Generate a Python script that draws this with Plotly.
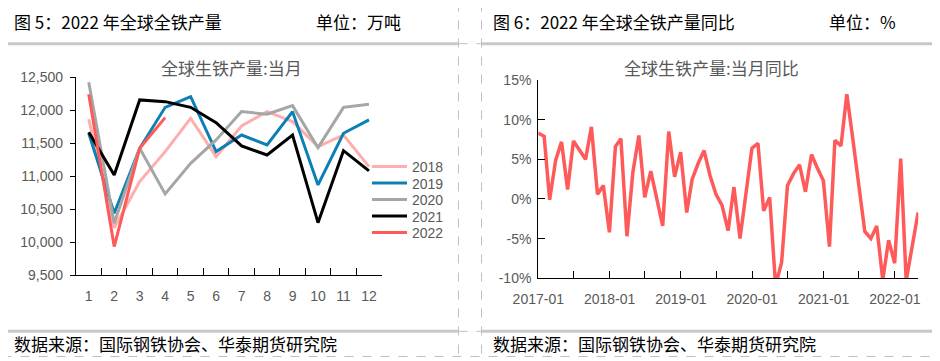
import pandas as pd
import plotly.graph_objects as go

W, H = 940, 361
OFF = 8  # page body margin in the browser

# ---------------- data ----------------
months = [str(i) for i in range(1, 13)]
y2018 = [11864, 10220, 10920, 11374, 11879, 11298, 11763, 11980, 11828, 11450, 11626, 11147]
y2019 = [11652, 10440, 11424, 12045, 12207, 11374, 11626, 11475, 11980, 10869, 11652, 11854]
y2020 = [12424, 10288, 11424, 10733, 11197, 11551, 11980, 11940, 12071, 11434, 12045, 12091]
y2021 = [11667, 11020, 12157, 12131, 12045, 11813, 11460, 11323, 11626, 10298, 11389, 11081]
y2022 = [12242, 9935, 11424, 11889]

yoy_start = "2016-12-31"
yoy = [
    8.3,
    7.9, -0.1, 4.9, 7.2, 1.2, 7.3, 6.1, 5.0, 9.1, 0.6, 1.7, -4.2,
    6.6, 7.6, -4.7, 3.3, 8.0, 0.2, 3.5, 0.1, -3.4, 8.5, 2.8, 5.9,
    -1.7, 2.5, 4.5, 6.1, 2.9, 0.6, -0.8, -4.0, 1.5, -5.0, 0.6, 6.4,
    7.0, -1.5, 0.2, -10.9, -8.0, 1.7, 3.2, 4.3, 0.9, 5.6, 3.9, 2.3,
    -6.0, 7.4, 6.7, 13.2, 7.5, 2.0, -4.1, -5.0, -3.4, -10.2, -5.2, -8.1,
    5.1, -10.3, -5.9, -1.7,
]
yoy_dates = [(pd.Timestamp(yoy_start) + pd.offsets.MonthEnd(i)).strftime("%Y-%m-%d") for i in range(len(yoy))]

x2_tickvals = [f"{y}-{m:02d}-01" for y in range(2017, 2023) for m in (1, 7)][:-1]
x2_ticktext = [f"{y}-01" if m == 1 else "" for y in range(2017, 2023) for m in (1, 7)][:-1]
y2_tickvals = [-10, -5, 0, 5, 10, 15]
y2_ticktext = ["-10%", "-5%", "0%", "5%", "10%", "15%"]

series = [("2018", y2018, "#FFADAD"), ("2019", y2019, "#0C80B4"), ("2020", y2020, "#A6A6A6"),
          ("2021", y2021, "#000000"), ("2022", y2022, "#FF5A5A")]
legend_rows = [167, 183.5, 200, 216.5, 233]

# ---------------- helpers ----------------
def px(x):
    return (x - OFF) / W

def py(y):
    return 1 - (y - OFF) / H

CJK = "Noto Sans CJK SC"
NUM = "Liberation Sans"
GRAY_TXT = "#595959"

fig = go.Figure()
legend_layouts = {}
for i, (name, vals, col) in enumerate(series):
    lg = "legend" if i == 0 else f"legend{i + 1}"
    fig.add_trace(go.Scatter(x=months[:len(vals)], y=vals, name=name, mode="lines",
                             line=dict(color=col, width=3), xaxis="x", yaxis="y", legend=lg))
    legend_layouts[lg] = dict(x=px(367), y=py(legend_rows[i]), xanchor="left", yanchor="middle",
                              font=dict(family=NUM, size=14, color=GRAY_TXT),
                              bgcolor="rgba(0,0,0,0)", itemwidth=35)

fig.add_trace(go.Scatter(x=yoy_dates, y=yoy, mode="lines", showlegend=False,
                         line=dict(color="#FF5A5A", width=3.5), xaxis="x2", yaxis="y2"))

tickfont = dict(family=NUM, size=14, color=GRAY_TXT)

fig.update_layout(
    width=W, height=H, margin=dict(l=0, r=0, t=0, b=0, pad=0, autoexpand=False),
    paper_bgcolor="white", plot_bgcolor="white",
    xaxis=dict(domain=[px(76), px(381.7)], type="category", range=[-0.5, 11.5],
               tickson="boundaries", ticks="inside", ticklen=7, tickcolor="black",
               showline=True, linecolor="black", linewidth=1.2, showgrid=False, tickangle=0,
               tickfont=tickfont, anchor="y", ticklabelstandoff=8, automargin=False),
    yaxis=dict(domain=[py(275.3), py(77.3)], range=[9500, 12500], dtick=500, tickformat=",",
               ticks="outside", ticklen=5, tickcolor="black", showline=True, linecolor="black",
               linewidth=1.2, showgrid=False, zeroline=False, tickfont=tickfont, anchor="x",
               ticklabelstandoff=4, automargin=False),
    xaxis2=dict(domain=[px(538.3), px(918.3)], type="date", range=["2017-01-01", "2022-05-01"],
                tickvals=x2_tickvals, ticktext=x2_ticktext, ticks="inside", ticklen=7,
                tickcolor="black", showline=True, linecolor="black", linewidth=1.2, tickangle=0,
                showgrid=False, tickfont=tickfont, anchor="y2", ticklabelstandoff=8, automargin=False),
    yaxis2=dict(domain=[py(278.3), py(80)], range=[-10, 15], tickvals=y2_tickvals,
                ticktext=y2_ticktext, ticks="inside", ticklen=7, tickcolor="black",
                showline=True, linecolor="black", linewidth=1.2, showgrid=False,
                zeroline=False, tickfont=tickfont, anchor="x2", ticklabelstandoff=3, automargin=False),
    showlegend=True,
    **legend_layouts,
)

def ann(text, x, y, size=17, color="black", xanchor="left"):
    fig.add_annotation(text=text, x=px(x), y=py(y), xref="paper", yref="paper",
                       xanchor=xanchor, yanchor="middle", showarrow=False,
                       font=dict(family=CJK, size=size, color=color))

ann("图 5：2022 年全球全铁产量", 12, 22)
ann("单位：万吨", 314, 22)
ann("图 6：2022 年全球全铁产量同比", 491, 22)
ann("单位：%", 827, 22)
ann("全球生铁产量:当月", 231, 68, size=17, color=GRAY_TXT, xanchor="center")
ann("全球生铁产量:当月同比", 711, 68, size=17, color=GRAY_TXT, xanchor="center")
ann("数据来源：国际钢铁协会、华泰期货研究院", 12, 343)
ann("数据来源：国际钢铁协会、华泰期货研究院", 491, 343)

shapes = []
dash = dict(color="#BFBFBF", width=1, dash="dash")
for yy in (2.5, 356.5):
    shapes.append(dict(type="line", xref="paper", yref="paper", x0=px(2.5), x1=px(935), y0=py(yy), y1=py(yy), line=dash))
for xx in (2.5, 458.5, 481.5, 935):
    shapes.append(dict(type="line", xref="paper", yref="paper", x0=px(xx), x1=px(xx), y0=py(2.5), y1=py(356.5), line=dash))
for yy in (43.7, 331.3):
    shapes.append(dict(type="line", xref="paper", yref="paper", x0=px(458.5), x1=px(481.5), y0=py(yy), y1=py(yy), line=dash))
    for a, b in ((2.5, 458.5), (481.5, 935)):
        shapes.append(dict(type="line", xref="paper", yref="paper", x0=px(a), x1=px(b), y0=py(yy), y1=py(yy),
                           line=dict(color="#C8C8C8", width=3)))
fig.update_layout(shapes=shapes)

fig.write_html("out.html")
